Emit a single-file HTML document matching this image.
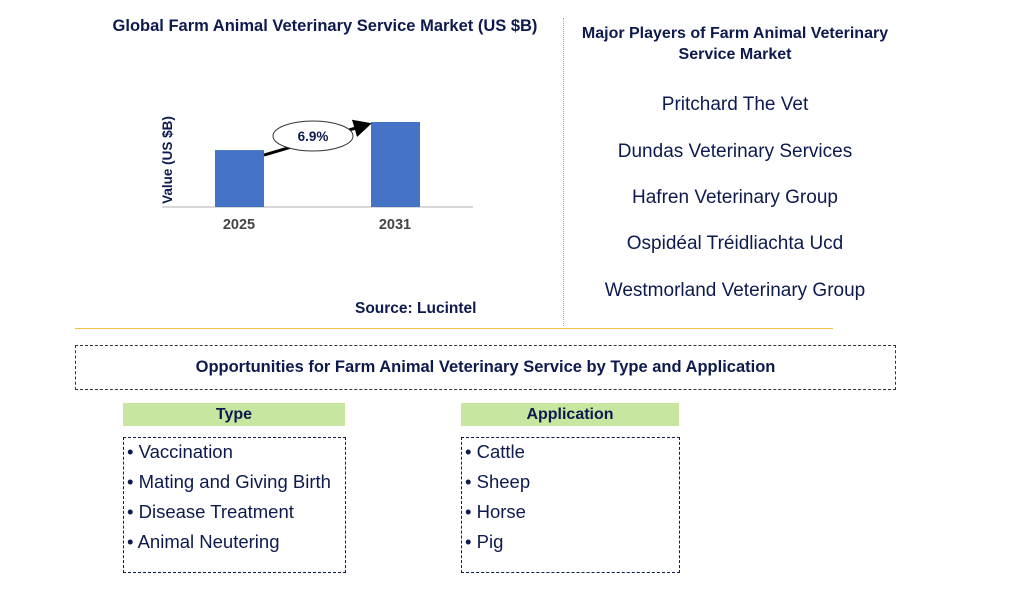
<!DOCTYPE html>
<html><head><meta charset="utf-8"><style>
body{margin:0;width:1024px;height:592px;background:#fff;position:relative;font-family:"Liberation Sans",Arial,sans-serif;overflow:hidden}
.a{position:absolute}
.t{color:#0d1a4d;font-weight:bold}
.pl{position:absolute;left:555px;width:360px;text-align:center;font-size:19px;color:#0d1a4d}
.li{font-size:18.5px;color:#0d1a4d;height:30px;line-height:28px;padding-left:3px}
</style></head><body>
<div class="a t" style="left:90px;top:17px;width:470px;text-align:center;font-size:16.5px">Global Farm Animal Veterinary Service Market (US $B)</div>
<svg class="a" style="left:0;top:0" width="560" height="330">
<defs><marker id="ah" markerWidth="6" markerHeight="6" refX="4" refY="3" orient="auto"><path d="M0,0 L6,3 L0,6 z" fill="#000"/></marker></defs>
<g id="g"></g>
<text x="172" y="160" transform="rotate(-90 172 160)" text-anchor="middle" font-size="13.5" font-weight="bold" fill="#0d1a4d" font-family="Liberation Sans">Value (US $B)</text>
</svg>
<div class="a t" style="left:355px;top:300px;font-size:15.5px">Source: Lucintel</div>
<div class="a" style="left:563px;top:18px;height:308px;border-left:1px dotted #aaa"></div>
<div class="a" style="left:75px;top:328px;width:758px;border-top:1px solid #f0c040"></div>
<div class="a t" style="left:555px;top:23px;width:360px;text-align:center;font-size:16px;line-height:21px">Major Players of Farm Animal Veterinary<br>Service Market</div>
<div class="pl" style="top:94px">Pritchard The Vet</div>
<div class="pl" style="top:141px">Dundas Veterinary Services</div>
<div class="pl" style="top:187px">Hafren Veterinary Group</div>
<div class="pl" style="top:233px">Ospidéal Tréidliachta Ucd</div>
<div class="pl" style="top:280px">Westmorland Veterinary Group</div>
<div class="a t" style="left:75px;top:345px;width:819px;height:43px;border:1px dashed #333;text-align:center;line-height:43px;font-size:16.5px">Opportunities for Farm Animal Veterinary Service by Type and Application</div>
<div class="a t" style="left:123px;top:403px;width:222px;height:23px;background:#c9e6a0;text-align:center;line-height:23px;font-size:16px">Type</div>
<div class="a t" style="left:461px;top:403px;width:218px;height:23px;background:#c9e6a0;text-align:center;line-height:23px;font-size:16px">Application</div>
<div class="a" style="left:123px;top:437px;width:221px;height:134px;border:1px dashed #0d1a4d">
<div class="li">• Vaccination</div><div class="li">• Mating and Giving Birth</div><div class="li">• Disease Treatment</div><div class="li">• Animal Neutering</div></div>
<div class="a" style="left:461px;top:437px;width:217px;height:134px;border:1px dashed #0d1a4d">
<div class="li">• Cattle</div><div class="li">• Sheep</div><div class="li">• Horse</div><div class="li">• Pig</div></div>
<script>
const categories=["2025","2031"];
const values=[3.2,4.78];
const cagr="6.9%";
const g=document.getElementById('g');
const ns='http://www.w3.org/2000/svg';
const base=207, scale=85/4.78;
const xs=c=>[215,371][categories.indexOf(c)];
const y=v=>base-v*scale;
function mk(t,a){const e=document.createElementNS(ns,t);for(const k in a)e.setAttribute(k,a[k]);g.appendChild(e);return e;}
const ax=mk('line',{x1:162,x2:473,y1:base,y2:base,stroke:'#ccc','stroke-width':1.5});


categories.forEach((c,i)=>{
 const r=mk('rect',{x:xs(c),y:y(values[i]),width:49,height:base-y(values[i]),fill:'#4472c4'});
 
 
 const t=mk('text',{x:xs(c)+24,y:229,'text-anchor':'middle','font-size':14.5,'font-weight':'bold',fill:'#444','font-family':'Liberation Sans'});
 t.textContent=c;
 
 
});
const ar=mk('line',{x1:264,y1:y(values[0])+5,x2:366,y2:y(values[1])+3,stroke:'#000','stroke-width':3,'marker-end':'url(#ah)'});


const el=mk('ellipse',{cx:313,cy:136,rx:40,ry:15,fill:'#fff',stroke:'#333'});


const ct=mk('text',{x:313,y:141,'text-anchor':'middle','font-size':13.5,'font-weight':'bold',fill:'#0d1a4d','font-family':'Liberation Sans'});
ct.textContent=cagr;


</script>
</body></html>
